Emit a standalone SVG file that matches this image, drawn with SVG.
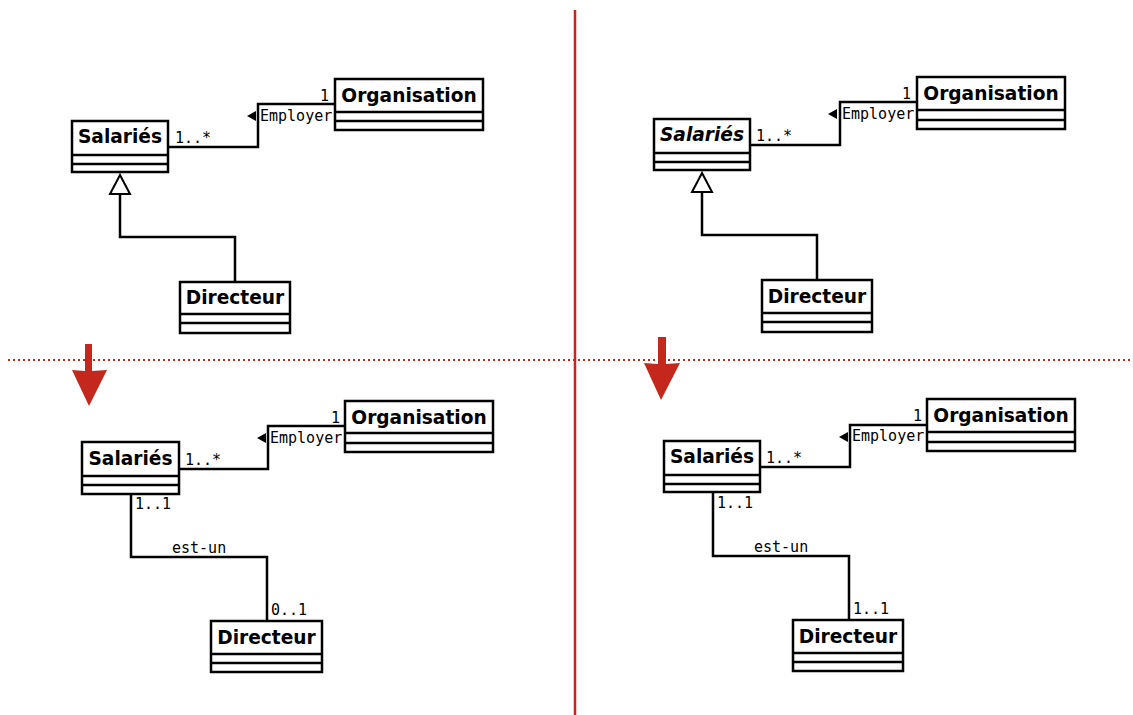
<svg xmlns="http://www.w3.org/2000/svg" width="1133" height="715" viewBox="0 0 1133 715">
  <style>
    .box { fill: #ffffff; stroke: #000000; stroke-width: 2.5; }
    .sep { stroke: #000000; stroke-width: 2.5; }
    .name { font-family: "DejaVu Sans", sans-serif; font-weight: bold; font-size: 18.6px; text-anchor: middle; fill: #000; }
    .abstract { font-style: italic; }
    .lbl { font-family: "DejaVu Sans Mono", monospace; font-size: 15px; fill: #000; }
    .edge { fill: none; stroke: #000000; stroke-width: 2.5; }
    .red { stroke: #c4281c; }
    .redfill { fill: #c4281c; }
  </style>

  <!-- Separators -->
  <g id="separators">
    <line x1="575" y1="10" x2="575" y2="715" class="red" stroke-width="2.5"/>
    <line x1="8" y1="360" x2="1133" y2="360" class="red" stroke-width="2" stroke-dasharray="2,3"/>
    <polygon class="redfill" points="85,344 92,344 92,371 107,370 89,406 72,370 85,371"/>
    <polygon class="redfill" points="658,337 666,337 666,364 680,363 661,400 644,363 658,364"/>
  </g>

  <!-- Connectors -->
  <g id="connectors">
    <!-- top-left -->
    <path class="edge" d="M168,147 H258 V104 H335"/>
    <path class="edge" d="M120,194 V237 H235 V282"/>
    <polygon points="120,175 110,194 130,194" fill="#fff" stroke="#000" stroke-width="2"/>
    <polygon points="247,116 256,111 256,121" fill="#000"/>
    <text class="lbl" x="175" y="143">1..*</text>
    <text class="lbl" x="320" y="101">1</text>
    <text class="lbl" x="260" y="121">Employer</text>

    <!-- top-right -->
    <path class="edge" d="M750,145 H840 V102 H917"/>
    <path class="edge" d="M702,192 V235 H817 V280"/>
    <polygon points="702,173 692,192 712,192" fill="#fff" stroke="#000" stroke-width="2"/>
    <polygon points="828,114 837,109 837,119" fill="#000"/>
    <text class="lbl" x="756" y="141">1..*</text>
    <text class="lbl" x="902" y="99">1</text>
    <text class="lbl" x="842" y="119">Employer</text>

    <!-- bottom-left -->
    <path class="edge" d="M179,469 H268 V426 H345"/>
    <path class="edge" d="M131,494 V557 H267 V621"/>
    <polygon points="257,438 266,433 266,443" fill="#000"/>
    <text class="lbl" x="185" y="465">1..*</text>
    <text class="lbl" x="331" y="423">1</text>
    <text class="lbl" x="270" y="443">Employer</text>
    <text class="lbl" x="135" y="509">1..1</text>
    <text class="lbl" x="172" y="553">est-un</text>
    <text class="lbl" x="271" y="615">0..1</text>

    <!-- bottom-right -->
    <path class="edge" d="M760,467 H850 V425 H927"/>
    <path class="edge" d="M713,492 V556 H849 V620"/>
    <polygon points="839,437 848,432 848,442" fill="#000"/>
    <text class="lbl" x="766" y="463">1..*</text>
    <text class="lbl" x="913" y="421">1</text>
    <text class="lbl" x="852" y="441">Employer</text>
    <text class="lbl" x="717" y="508">1..1</text>
    <text class="lbl" x="754" y="552">est-un</text>
    <text class="lbl" x="853" y="614">1..1</text>
  </g>

  <!-- Top-left classes -->
  <g id="tl-salaries">
    <rect class="box" x="72" y="121" width="96" height="51"/>
    <line class="sep" x1="72" y1="155" x2="168" y2="155"/>
    <line class="sep" x1="72" y1="164" x2="168" y2="164"/>
    <text class="name" x="120" y="143">Salariés</text>
  </g>
  <g id="tl-organisation">
    <rect class="box" x="335" y="79" width="148" height="51"/>
    <line class="sep" x1="335" y1="112" x2="483" y2="112"/>
    <line class="sep" x1="335" y1="121" x2="483" y2="121"/>
    <text class="name" x="409" y="102">Organisation</text>
  </g>
  <g id="tl-directeur">
    <rect class="box" x="180" y="282" width="110" height="51"/>
    <line class="sep" x1="180" y1="314" x2="290" y2="314"/>
    <line class="sep" x1="180" y1="323" x2="290" y2="323"/>
    <text class="name" x="235" y="304">Directeur</text>
  </g>

  <!-- Top-right classes -->
  <g id="tr-salaries">
    <rect class="box" x="654" y="119" width="96" height="51"/>
    <line class="sep" x1="654" y1="153" x2="750" y2="153"/>
    <line class="sep" x1="654" y1="162" x2="750" y2="162"/>
    <text class="name abstract" x="702" y="141">Salariés</text>
  </g>
  <g id="tr-organisation">
    <rect class="box" x="917" y="77" width="148" height="52"/>
    <line class="sep" x1="917" y1="110" x2="1065" y2="110"/>
    <line class="sep" x1="917" y1="120" x2="1065" y2="120"/>
    <text class="name" x="991" y="100">Organisation</text>
  </g>
  <g id="tr-directeur">
    <rect class="box" x="762" y="280" width="110" height="52"/>
    <line class="sep" x1="762" y1="313" x2="872" y2="313"/>
    <line class="sep" x1="762" y1="322" x2="872" y2="322"/>
    <text class="name" x="817" y="303">Directeur</text>
  </g>

  <!-- Bottom-left classes -->
  <g id="bl-salaries">
    <rect class="box" x="82" y="442" width="97" height="52"/>
    <line class="sep" x1="82" y1="476" x2="179" y2="476"/>
    <line class="sep" x1="82" y1="485" x2="179" y2="485"/>
    <text class="name" x="130.5" y="465">Salariés</text>
  </g>
  <g id="bl-organisation">
    <rect class="box" x="345" y="401" width="148" height="51"/>
    <line class="sep" x1="345" y1="433" x2="493" y2="433"/>
    <line class="sep" x1="345" y1="443" x2="493" y2="443"/>
    <text class="name" x="419" y="424">Organisation</text>
  </g>
  <g id="bl-directeur">
    <rect class="box" x="211" y="621" width="111" height="51"/>
    <line class="sep" x1="211" y1="654" x2="322" y2="654"/>
    <line class="sep" x1="211" y1="663" x2="322" y2="663"/>
    <text class="name" x="266.5" y="644">Directeur</text>
  </g>

  <!-- Bottom-right classes -->
  <g id="br-salaries">
    <rect class="box" x="664" y="441" width="96" height="51"/>
    <line class="sep" x1="664" y1="475" x2="760" y2="475"/>
    <line class="sep" x1="664" y1="484" x2="760" y2="484"/>
    <text class="name" x="712" y="463">Salariés</text>
  </g>
  <g id="br-organisation">
    <rect class="box" x="927" y="399" width="148" height="52"/>
    <line class="sep" x1="927" y1="432" x2="1075" y2="432"/>
    <line class="sep" x1="927" y1="442" x2="1075" y2="442"/>
    <text class="name" x="1001" y="422">Organisation</text>
  </g>
  <g id="br-directeur">
    <rect class="box" x="793" y="620" width="110" height="51"/>
    <line class="sep" x1="793" y1="653" x2="903" y2="653"/>
    <line class="sep" x1="793" y1="662" x2="903" y2="662"/>
    <text class="name" x="848" y="643">Directeur</text>
  </g>
</svg>
